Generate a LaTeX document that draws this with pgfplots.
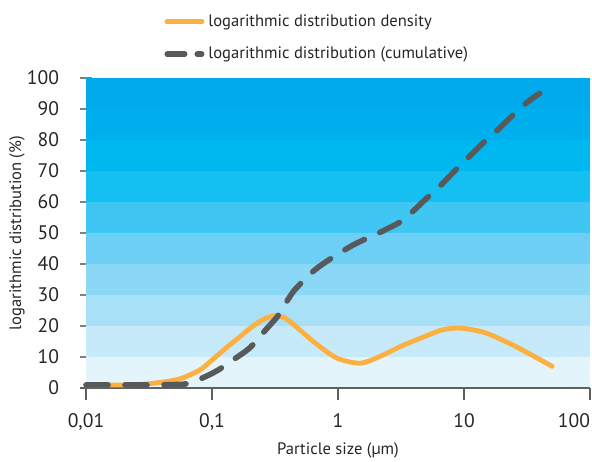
\documentclass[border=0pt]{standalone}
\usepackage{fontspec}
\setmainfont{PT Sans}
\usepackage{pgfplots}
\pgfplotsset{compat=1.18}
\definecolor{b0}{HTML}{E3F4FB}
\definecolor{b1}{HTML}{C6EAF9}
\definecolor{b2}{HTML}{A8E0F8}
\definecolor{b3}{HTML}{8AD7F6}
\definecolor{b4}{HTML}{6DCFF5}
\definecolor{b5}{HTML}{40C6F3}
\definecolor{b6}{HTML}{14C0F2}
\definecolor{b7}{HTML}{00B8F0}
\definecolor{b8}{HTML}{00B0EE}
\definecolor{b9}{HTML}{00AAEB}
\definecolor{orng}{HTML}{FBB040}
\definecolor{dgray}{HTML}{58595B}
\definecolor{axgray}{HTML}{5F6062}
\begin{document}
\begin{tikzpicture}
\begin{axis}[
  scale only axis,
  width=252pt, height=155pt,
  xmode=log, log basis x=10,
  xmin=0.01, xmax=100, ymin=0, ymax=100,
  xtick={0.01,0.1,1,10,100},
  xticklabels={{0,01},{0,1},1,10,{\makebox[0pt][r]{100}}},
  xminorticks=false,
  ytick={0,10,...,100},
  axis x line=bottom, axis y line=left,
  axis line style={-},
  x axis line style={draw=axgray, line width=1pt},
  y axis line style={draw=none},
  y tick style={draw=gray, line width=0.7pt},
  x tick style={draw=axgray, line width=0.8pt},
  ytick align=center, xtick align=outside,
  major tick length=6pt,
  /pgf/number format/assume math mode=true,
  tick label style={font=\fontsize{9.8}{11}\selectfont, text=black!85},
  y tick label style={xshift=-7pt},
  x tick label style={yshift=-3pt},
  label style={font=\fontsize{8.3}{10}\selectfont, text=black!85},
  xlabel={Particle size (µm)},
  ylabel={logarithmic distribution (\%)},
  xlabel style={at={(axis description cs:0.5,-0.2)}, anchor=center},
  ylabel style={at={(axis description cs:-0.137,0.5)}, anchor=center},
  legend style={at={(axis description cs:0.143,1.232)}, anchor=north west, draw=none, fill=none,
    font=\fontsize{8.3}{10}\selectfont, text=black!85, row sep=4.8pt},
  legend cell align=left,
  legend image code/.code={\draw[#1] (1.2pt,0pt) -- (18.8pt,0pt);},
  clip=false,
]
\fill[b0] (axis cs:0.01,0) rectangle (axis cs:100,10);
\fill[b1] (axis cs:0.01,10) rectangle (axis cs:100,20);
\fill[b2] (axis cs:0.01,20) rectangle (axis cs:100,30);
\fill[b3] (axis cs:0.01,30) rectangle (axis cs:100,40);
\fill[b4] (axis cs:0.01,40) rectangle (axis cs:100,50);
\fill[b5] (axis cs:0.01,50) rectangle (axis cs:100,60);
\fill[b6] (axis cs:0.01,60) rectangle (axis cs:100,70);
\fill[b7] (axis cs:0.01,70) rectangle (axis cs:100,80);
\fill[b8] (axis cs:0.01,80) rectangle (axis cs:100,90);
\fill[b9] (axis cs:0.01,90) rectangle (axis cs:100,100);
\draw[axgray, line width=1pt] ([xshift=-3pt]axis cs:0.01,0) -- (axis cs:100,0);
\addplot[orng, line width=2.4pt, smooth, line cap=round] coordinates {
(0.01,1.0) (0.02,1.0) (0.03,1.3) (0.045,2.2) (0.058,3.2) (0.08,5.8) (0.1,9) (0.13,13)
(0.166,16.5) (0.2,19.2) (0.25,21.9) (0.31,23.3) (0.37,22.8) (0.45,20.3) (0.55,17.2) (0.72,13.3)
(1,9.5) (1.5,8) (2.1,10) (3.1,13.3) (4.8,16.5) (6.8,18.8) (9.5,19.3) (15,17.7) (26,13.3) (50,7)
};
\addlegendentry{logarithmic distribution density}
\addplot[dgray, line width=2.8pt, smooth, line cap=round, dash pattern=on 11pt off 8.5pt,
  legend image code/.code={\draw[dgray, line width=2.8pt, line cap=round, dash pattern=on 8.7pt off 6.3pt] (1.4pt,0pt) -- (18.6pt,0pt);}] coordinates {
(0.01,1) (0.03,1) (0.058,1.2) (0.071,2) (0.09,3.8) (0.112,5.8) (0.139,8.4) (0.2,13)
(0.27,19) (0.33,23) (0.366,26) (0.44,31) (0.5,33.5) (0.57,36) (0.7,39) (0.86,41.5)
(1.03,43.5) (1.3,46) (1.64,48) (2.1,50) (2.5,51.5) (3.1,53.5) (3.7,56) (5.3,62) (6.4,65)
(8.9,71) (10.6,74) (15,80) (17.8,82.6) (25.4,88.7) (30.5,91.6) (37,94.2) (40,95)
};
\addlegendentry{logarithmic distribution (cumulative)}
\end{axis}
\pgfresetboundingbox
\path ([xshift=-43pt,yshift=-36.5pt]current axis.south west) rectangle ([xshift=1pt,yshift=39pt]current axis.north east);
\end{tikzpicture}
\end{document}
